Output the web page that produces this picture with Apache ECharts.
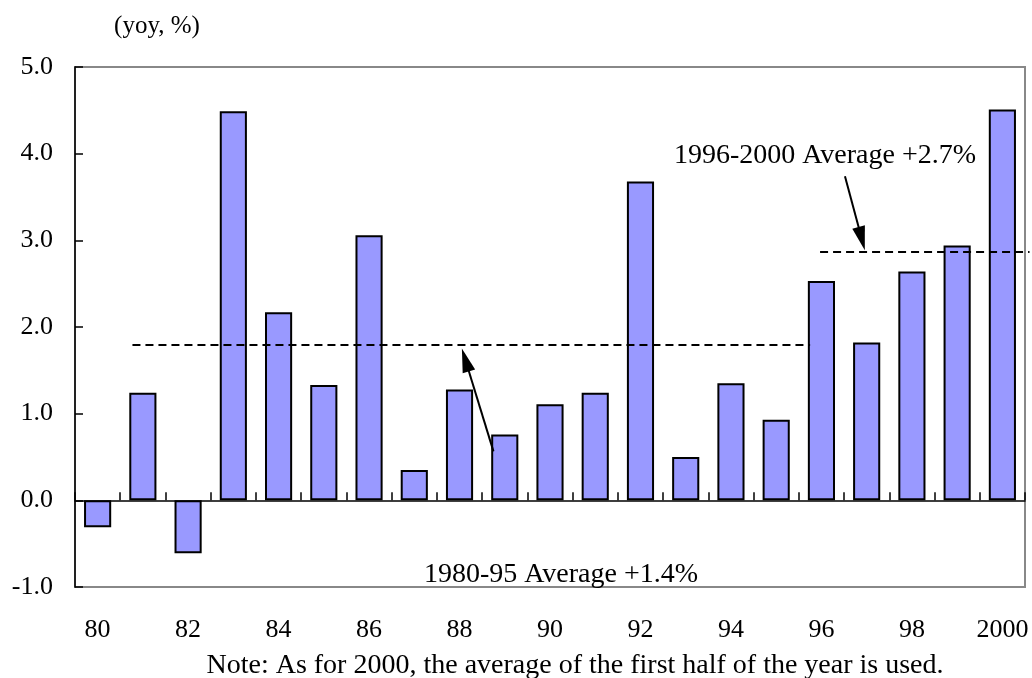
<!DOCTYPE html>
<html>
<head>
<meta charset="utf-8">
<script src="https://cdn.jsdelivr.net/npm/echarts@6/dist/echarts.min.js"></script>
<style>
    html, body { margin: 0; padding: 0; background: #fff; }
    #main { width: 1032px; height: 678px; }
</style>
</head>
<body>
<div id="main"></div>
<script>
// 年份
var years = ['80', '81', '82', '83', '84', '85', '86', '87', '88', '89', '90',
    '91', '92', '93', '94', '95', '96', '97', '98', '99', '2000'];
// 前年比 (%)
var growth = [-0.31, 1.24, -0.61, 4.49, 2.17, 1.33, 3.06, 0.35, 1.28, 0.76, 1.11,
    1.24, 3.68, 0.50, 1.35, 0.93, 2.53, 1.82, 2.64, 2.94, 4.51];
var yTicks = [-1, 0, 1, 2, 3, 4, 5];

// 平均线 (x 为类目位置, 0..21)
var avgLine1 = [[1.27, 1.80], [16.25, 1.80]];
var avgLine2 = [[16.47, 2.87], [21.1, 2.87]];
// 箭头 [尾, 头]
var arrow1 = [[9.25, 0.565], [8.63, 1.62]];
var arrow2 = [[17.02, 3.74], [17.39, 3.02]];

var serif = '"Liberation Serif", "Times New Roman", serif';
var chart = echarts.init(document.getElementById('main'));

var option = {
    animation: false,
    backgroundColor: '#fff',
    grid: {
        left: 75, right: 7, top: 67, bottom: 91,
        show: true,
        borderColor: '#888',
        borderWidth: 2
    },
    xAxis: [
        {
            // 0 轴线 + 刻度
            type: 'category',
            position: 'top',
            data: years,
            axisLine: { onZero: true, lineStyle: { color: '#000', width: 1.5 } },
            axisTick: { show: true, inside: false, length: 8, interval: 0, lineStyle: { color: '#000', width: 1.5 } },
            axisLabel: { show: false },
            splitLine: { show: false }
        },
        {
            type: 'category',
            position: 'bottom',
            data: years,
            axisLine: { show: false, onZero: false },
            axisTick: { show: false },
            axisLabel: { interval: 1, margin: 30, fontSize: 26, color: '#000', fontFamily: serif },
            splitLine: { show: false }
        },
        {
            type: 'value',
            show: false,
            min: 0,
            max: 21
        }
    ],
    yAxis: {
        type: 'value',
        min: yTicks[0],
        max: yTicks[yTicks.length - 1],
        interval: 1,
        axisLine: { show: true, lineStyle: { color: '#000', width: 1.5 } },
        axisTick: { show: true, inside: true, length: 8, lineStyle: { color: '#000', width: 1.5 } },
        axisLabel: {
            margin: 22, fontSize: 26, color: '#000', fontFamily: serif,
            formatter: function (v) { return v.toFixed(1); }
        },
        splitLine: { show: false }
    },
    series: [
        {
            type: 'bar',
            xAxisIndex: 0,
            data: growth,
            barWidth: '60%',
            itemStyle: { color: '#9999ff', borderColor: '#000', borderWidth: 2 }
        },
        {
            type: 'lines',
            coordinateSystem: 'cartesian2d',
            xAxisIndex: 2,
            yAxisIndex: 0,
            symbol: 'none',
            lineStyle: { color: '#000', width: 2, type: [8, 5], opacity: 1 },
            data: [{ coords: avgLine1 }, { coords: avgLine2 }],
            clip: false,
            z: 5
        },
        {
            type: 'lines',
            coordinateSystem: 'cartesian2d',
            xAxisIndex: 2,
            yAxisIndex: 0,
            symbol: ['none', 'triangle'],
            symbolSize: [[13, 24], [13, 24]],
            lineStyle: { color: '#000', width: 2, opacity: 1 },
            itemStyle: { color: '#000' },
            data: [{ coords: arrow1 }, { coords: arrow2 }],
            z: 6
        }
    ],
    graphic: [
        {
            type: 'text',
            style: { text: '(yoy, %)', x: 157, y: 26, textAlign: 'center', textVerticalAlign: 'middle', fontSize: 25, fontFamily: serif, fill: '#000' }
        },
        {
            type: 'text',
            style: { text: '1996-2000 Average +2.7%', x: 825, y: 156, textAlign: 'center', textVerticalAlign: 'middle', fontSize: 28, fontFamily: serif, fill: '#000' }
        },
        {
            type: 'text',
            style: { text: '1980-95 Average +1.4%', x: 561, y: 575, textAlign: 'center', textVerticalAlign: 'middle', fontSize: 28, fontFamily: serif, fill: '#000' }
        },
        {
            type: 'text',
            style: { text: 'Note: As for 2000, the average of the first half of the year is used.', x: 575, y: 666, textAlign: 'center', textVerticalAlign: 'middle', fontSize: 28, fontFamily: serif, fill: '#000' }
        }
    ]
};

chart.setOption(option);
</script>
</body>
</html>
